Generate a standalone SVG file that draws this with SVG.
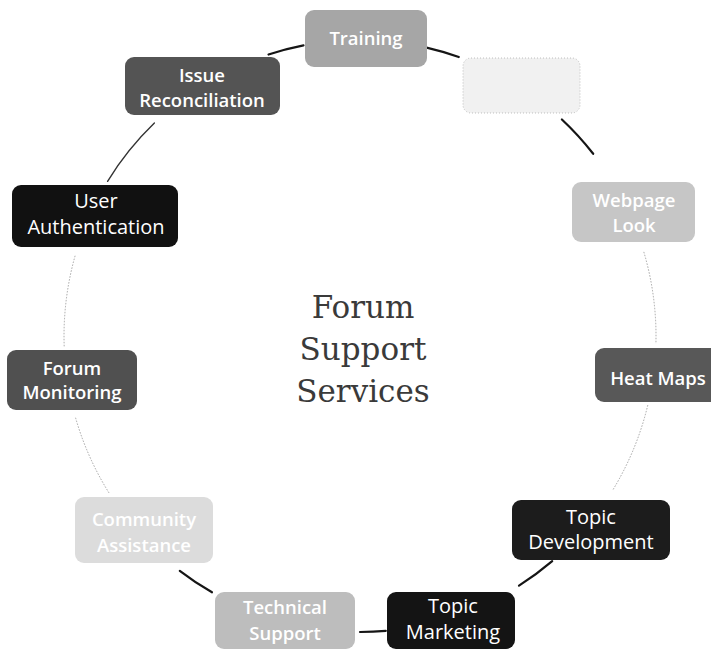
<svg xmlns="http://www.w3.org/2000/svg" width="711" height="651" viewBox="0 0 711 651">
  <style>
    .box { stroke: none; }
    .lbl { font-family: "Open Sans", "Liberation Sans", sans-serif; fill: #ffffff; text-anchor: middle; }
    .b { font-weight: 600; font-size: 18.5px; }
    .r { font-weight: 400; font-size: 20px; }
    .title { font-family: "DejaVu Serif", "Liberation Serif", serif; font-size: 31px; fill: #3a3a3a; text-anchor: middle; }
    .strong { fill: none; stroke: #151515; stroke-width: 2.2; stroke-linecap: round; }
    .mid { fill: none; stroke: #333333; stroke-width: 1.4; stroke-linecap: round; }
    .faint { fill: none; stroke: #9a9a9a; stroke-width: 0.9; stroke-dasharray: 1.5 1.5; }
  </style>
  <rect width="711" height="651" fill="#ffffff"/>

  <!-- ring of connectors between neighbouring services -->
  <g id="connectors">
    <path class="strong" d="M268.5,54.5 A296,296 0 0 1 303.5,45.4"/>
    <path class="strong" d="M426.6,47.6 A296,296 0 0 1 458.8,57.0"/>
    <path class="strong" d="M561.9,119.5 A296,296 0 0 1 593.2,153.8"/>
    <path class="faint" d="M643.8,251.9 A296,296 0 0 1 655.9,343.8"/>
    <path class="faint" d="M647.8,405.1 A296,296 0 0 1 612.4,490.7"/>
    <path class="strong" d="M552.2,561.1 A296,296 0 0 1 519.0,585.6"/>
    <path class="strong" d="M385.8,630.9 A296,296 0 0 1 360.0,632.0"/>
    <path class="strong" d="M212.0,592.3 A296,296 0 0 1 179.8,570.8"/>
    <path class="faint" d="M109.0,492.9 A296,296 0 0 1 75.5,417.6"/>
    <path class="faint" d="M64.2,346.3 A296,296 0 0 1 75.5,254.4"/>
    <path class="mid" d="M107.6,181.3 A296,296 0 0 1 154.4,123.1"/>
  </g>

  <!-- centre title -->
  <g id="center">
    <text class="title" x="363" y="318">Forum</text>
    <text class="title" x="363" y="360">Support</text>
    <text class="title" x="363" y="402">Services</text>
  </g>

  <g id="training">
    <rect class="box" x="305" y="10" width="122" height="57" rx="9" fill="#a6a6a6"/>
    <text class="lbl b" x="366" y="45">Training</text>
  </g>

  <g id="blank-node">
    <rect x="463" y="58" width="117" height="55" rx="8" fill="#f1f1f1" stroke="#b0b0b0" stroke-width="0.8" stroke-dasharray="1 2"/>
  </g>

  <g id="webpage-look">
    <rect class="box" x="572" y="182" width="123" height="60" rx="9" fill="#c6c6c6"/>
    <text class="lbl b" x="634" y="207">Webpage</text>
    <text class="lbl b" x="634" y="232">Look</text>
  </g>

  <g id="heat-maps">
    <rect class="box" x="595" y="348" width="125" height="54" rx="9" fill="#585858"/>
    <text class="lbl b" x="658" y="385">Heat Maps</text>
  </g>

  <g id="topic-development">
    <rect class="box" x="512" y="500" width="158" height="60" rx="9" fill="#1c1c1c"/>
    <text class="lbl r" x="591" y="524">Topic</text>
    <text class="lbl r" x="591" y="549">Development</text>
  </g>

  <g id="topic-marketing">
    <rect class="box" x="387" y="592" width="128" height="57" rx="9" fill="#141414"/>
    <text class="lbl r" x="453" y="613">Topic</text>
    <text class="lbl r" x="453" y="639">Marketing</text>
  </g>

  <g id="technical-support">
    <rect class="box" x="215" y="592" width="140" height="57" rx="9" fill="#bdbdbd"/>
    <text class="lbl b" x="285" y="614">Technical</text>
    <text class="lbl b" x="285" y="640">Support</text>
  </g>

  <g id="community-assistance">
    <rect class="box" x="75" y="497" width="138" height="66" rx="9" fill="#dcdcdc"/>
    <text class="lbl b" x="144" y="526">Community</text>
    <text class="lbl b" x="144" y="552">Assistance</text>
  </g>

  <g id="forum-monitoring">
    <rect class="box" x="7" y="350" width="130" height="60" rx="9" fill="#505050"/>
    <text class="lbl b" x="72" y="375">Forum</text>
    <text class="lbl b" x="72" y="399">Monitoring</text>
  </g>

  <g id="user-authentication">
    <rect class="box" x="12" y="185" width="166" height="62" rx="9" fill="#111111"/>
    <text class="lbl r" x="96" y="208">User</text>
    <text class="lbl r" x="96" y="234">Authentication</text>
  </g>

  <g id="issue-reconciliation">
    <rect class="box" x="125" y="57" width="155" height="58" rx="9" fill="#545454"/>
    <text class="lbl b" x="202" y="82">Issue</text>
    <text class="lbl b" x="202" y="107">Reconciliation</text>
  </g>
</svg>
